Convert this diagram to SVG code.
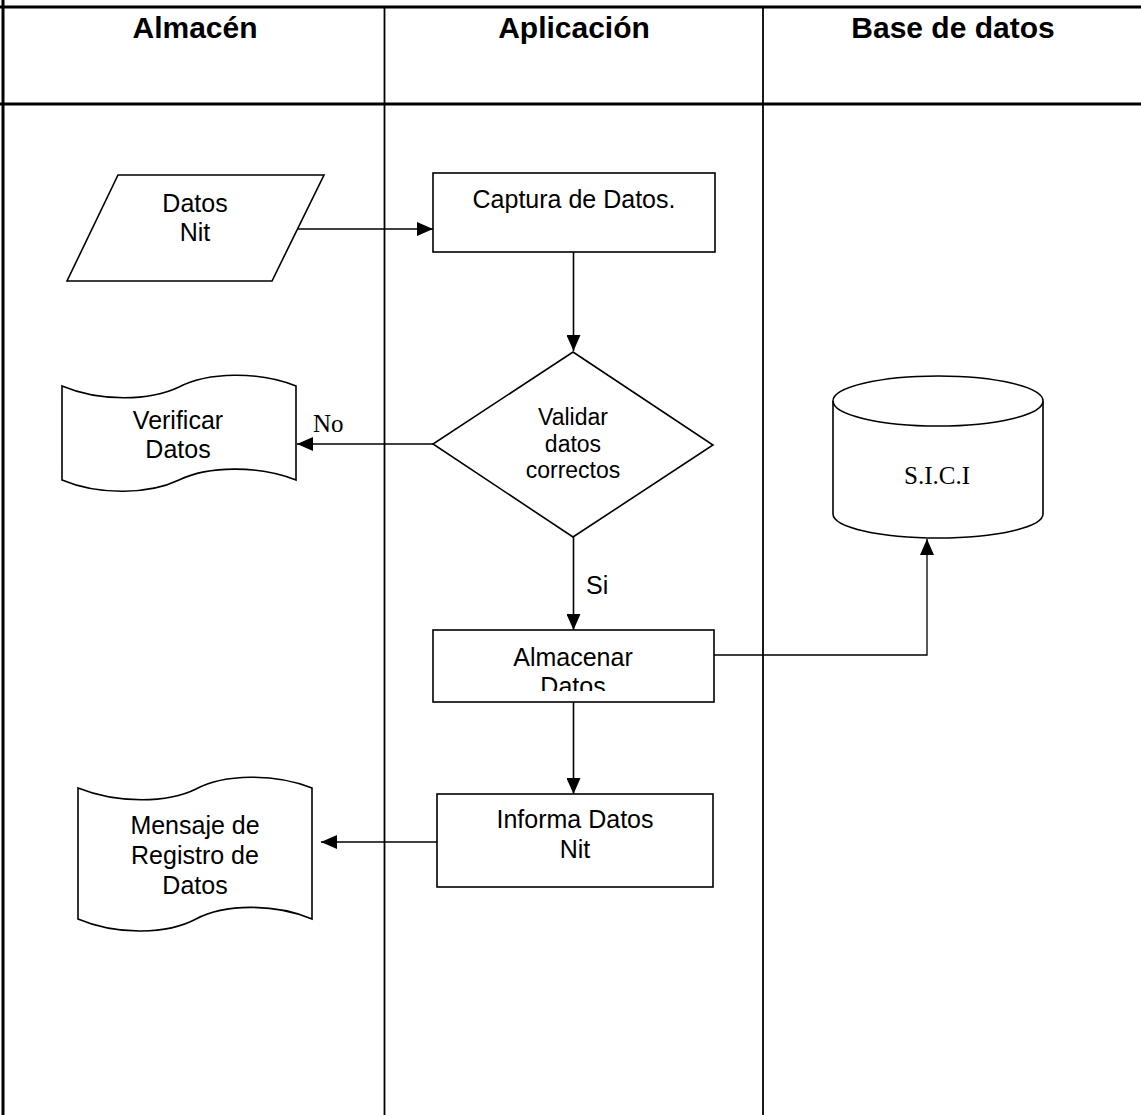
<svg xmlns="http://www.w3.org/2000/svg" width="1141" height="1115" viewBox="0 0 1141 1115">
<style>
.frame{stroke:#000;stroke-width:3;fill:none}
.lane{stroke:#000;stroke-width:1.8;fill:none}
.shape{fill:#fff;stroke:#000;stroke-width:1.6}
.conn{fill:none;stroke:#000;stroke-width:1.6}
.hdr{font-family:"Liberation Sans",Arial,sans-serif;font-weight:bold;font-size:30px;text-anchor:middle;fill:#000}
.t{font-family:"Liberation Sans",Arial,sans-serif;font-size:25px;text-anchor:middle;fill:#000}
.ts{font-family:"Liberation Sans",Arial,sans-serif;font-size:23px;text-anchor:middle;fill:#000}
.serif{font-family:"Liberation Serif","Times New Roman",serif;font-size:25px;fill:#000}
</style>
<defs>
<marker id="arr" markerUnits="userSpaceOnUse" markerWidth="16" markerHeight="14" viewBox="0 0 16 14" refX="16" refY="7" orient="auto">
<path d="M0,0 L16,7 L0,14 Z" fill="#000"/>
</marker>
<clipPath id="clipAlm"><rect x="434" y="631" width="279" height="60"/></clipPath>
</defs>
<rect width="1141" height="1115" fill="#fff"/>
<g id="lanes">
<line class="frame" x1="0" y1="7" x2="1141" y2="7"/>
<line class="frame" x1="0" y1="104" x2="1141" y2="104"/>
<line class="frame" x1="3" y1="0" x2="3" y2="1115"/>
<line class="lane" x1="384.5" y1="7" x2="384.5" y2="1115"/>
<line class="lane" x1="763" y1="7" x2="763" y2="1115"/>
<text class="hdr" x="195" y="38">Almacén</text>
<text class="hdr" x="574" y="38">Aplicación</text>
<text class="hdr" x="953" y="38">Base de datos</text>
</g>
<g id="connectors">
<line class="conn" x1="296" y1="229" x2="433" y2="229" marker-end="url(#arr)"/>
<line class="conn" x1="573.5" y1="252" x2="573.5" y2="351" marker-end="url(#arr)"/>
<line class="conn" x1="433" y1="444" x2="297" y2="444" marker-end="url(#arr)"/>
<line class="conn" x1="573.5" y1="537" x2="573.5" y2="630" marker-end="url(#arr)"/>
<polyline class="conn" points="714,655 927,655 927,539" marker-end="url(#arr)" style="stroke-width:1.3"/>
<line class="conn" x1="573.5" y1="702" x2="573.5" y2="794" marker-end="url(#arr)"/>
<line class="conn" x1="437" y1="842" x2="321" y2="842" marker-end="url(#arr)"/>
<text class="serif" x="313" y="432">No</text>
<text class="t" x="586" y="594" style="text-anchor:start">Si</text>
</g>
<g id="datos-nit">
<polygon class="shape" points="118,175 324,175 272,281 67,281"/>
<text class="t" x="195" y="212">Datos</text>
<text class="t" x="195" y="241">Nit</text>
</g>
<g id="captura">
<rect class="shape" x="433" y="173" width="282" height="79"/>
<text class="t" x="574" y="208">Captura de Datos.</text>
</g>
<g id="validar">
<polygon class="shape" points="573,352 713,445 573,537 433,444"/>
<text class="ts" x="573" y="425">Validar</text>
<text class="ts" x="573" y="452">datos</text>
<text class="ts" x="573" y="478">correctos</text>
</g>
<g id="verificar">
<path class="shape" d="M62,386 C100,402 150,401 179,387 C208,372 258,371 296,386 L296,480 C258,465 208,466 179,480 C150,494 100,496 62,480 Z"/>
<text class="t" x="178" y="429">Verificar</text>
<text class="t" x="178" y="458">Datos</text>
</g>
<g id="sici">
<path class="shape" d="M833,401 L833,514 A105,24 0 0 0 1043,514 L1043,401"/>
<ellipse class="shape" cx="938" cy="401" rx="105" ry="25"/>
<text class="serif" x="937" y="484" style="text-anchor:middle">S.I.C.I</text>
</g>
<g id="almacenar">
<rect class="shape" x="433" y="630" width="281" height="72"/>
<g clip-path="url(#clipAlm)">
<text class="t" x="573" y="666">Almacenar</text>
<text class="t" x="573" y="695">Datos</text>
</g>
</g>
<g id="informa">
<rect class="shape" x="437" y="794" width="276" height="93"/>
<text class="t" x="575" y="828">Informa Datos</text>
<text class="t" x="575" y="858">Nit</text>
</g>
<g id="mensaje">
<path class="shape" d="M78,788 C118,804 168,803 196,789 C224,774 274,773 312,788 L312,919 C274,903 224,904 196,919 C168,934 118,936 78,919 Z"/>
<text class="t" x="195" y="834">Mensaje de</text>
<text class="t" x="195" y="864">Registro de</text>
<text class="t" x="195" y="894">Datos</text>
</g>
</svg>
